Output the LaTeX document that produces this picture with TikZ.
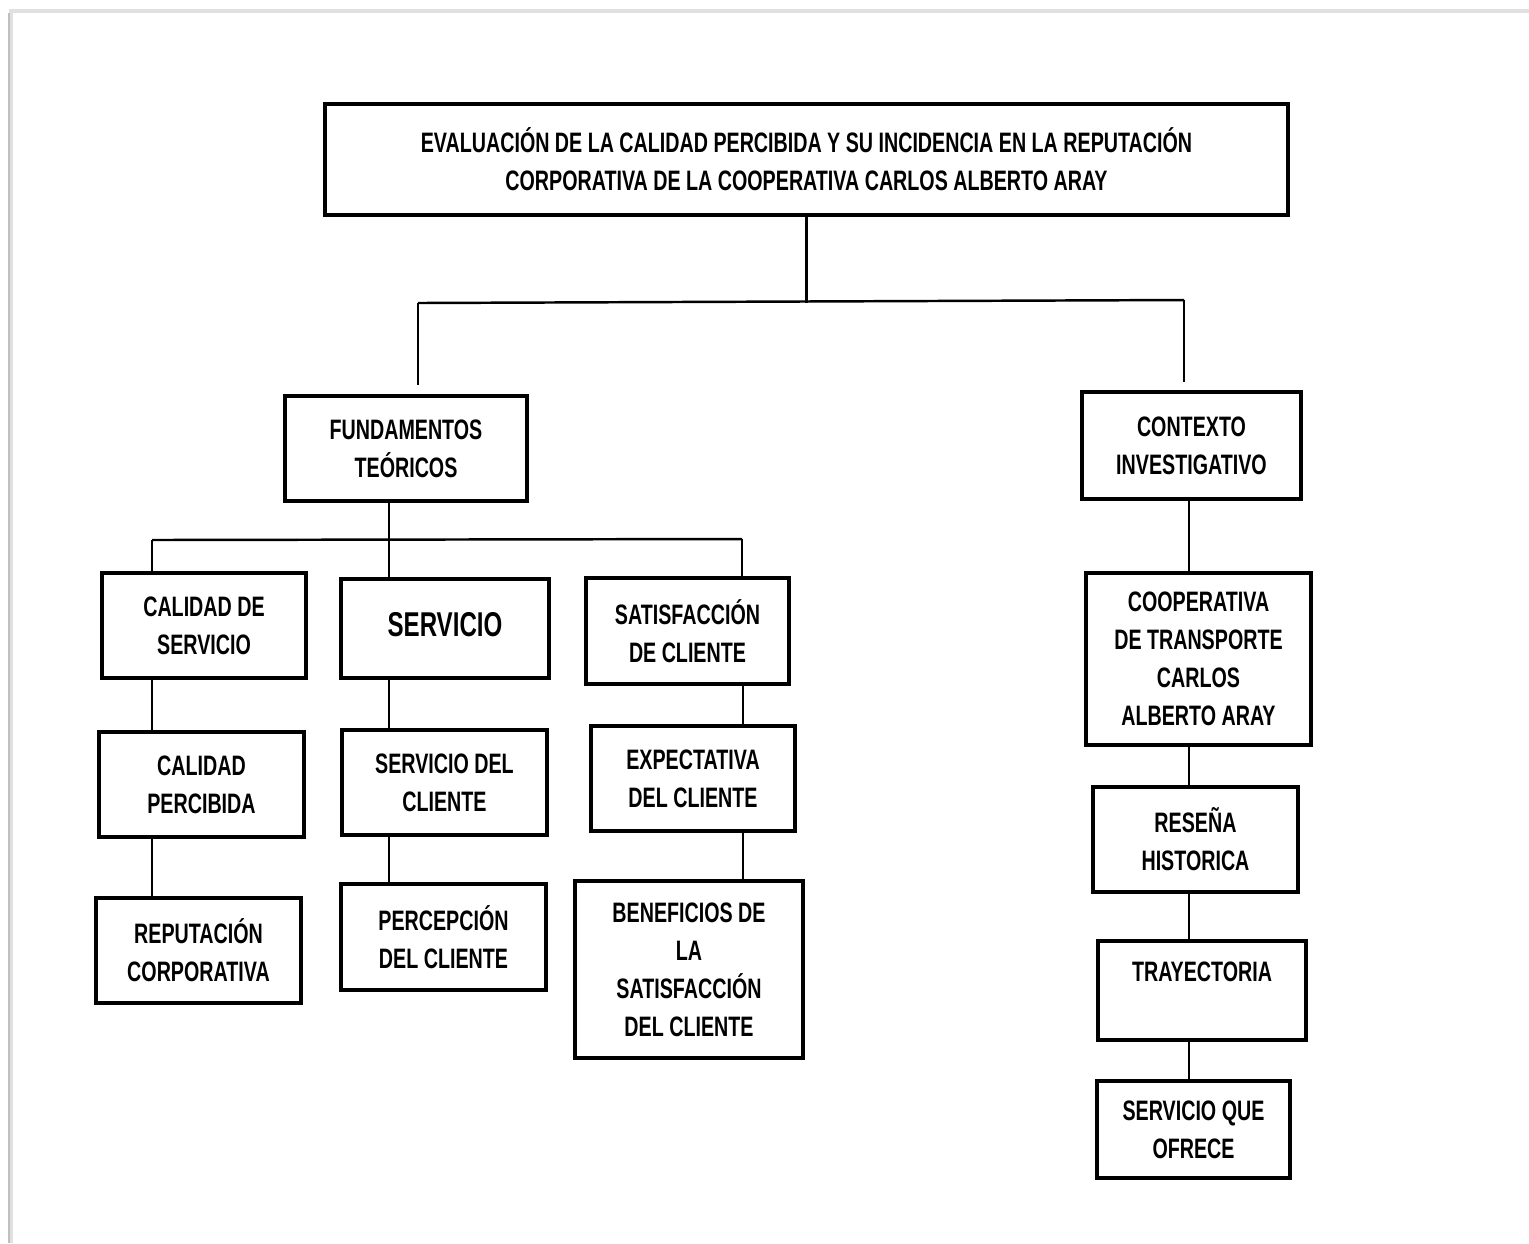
\documentclass[tikz,border=0pt]{standalone}
\usepackage{fontspec}
\setmainfont{Liberation Sans}[FakeStretch=0.70]
\begin{document}
\begin{tikzpicture}[
        box/.style={draw=black, line width=0.9pt, solid, inner sep=0pt, align=center,
            font=\bfseries\fontsize{8}{10.8}\selectfont},
        link/.style={draw=black, line width=0.7pt, solid}
    ]
            \useasboundingbox (0,0) rectangle (15.29,-12.43);
            % page edge
            \draw[draw=black!12, line width=1.2pt] (0.11,-12.43) -- (0.11,-0.11) -- (15.29,-0.11);
            \draw[draw=black!25, line width=0.5pt] (0.09,-12.43) -- (0.09,-0.13);
            % boxes
            \node[box, minimum width=9.63cm, minimum height=1.11cm] (title) at (8.065,-1.595)
                {EVALUACIÓN DE LA CALIDAD PERCIBIDA Y SU INCIDENCIA EN LA REPUTACIÓN\\CORPORATIVA DE LA COOPERATIVA CARLOS ALBERTO ARAY};
            \node[box, minimum width=2.42cm, minimum height=1.05cm] (fund) at (4.06,-4.485) {FUNDAMENTOS\\TEÓRICOS};
            \node[box, minimum width=2.19cm, minimum height=1.07cm] (ctx) at (11.915,-4.455) {CONTEXTO\\INVESTIGATIVO};
            \node[box, minimum width=2.04cm, minimum height=1.05cm] (calserv) at (2.04,-6.255) {CALIDAD DE\\SERVICIO};
            \node[box, minimum width=2.08cm, minimum height=0.99cm,
                font=\bfseries\fontsize{9.8}{11}\selectfont] (serv) at (4.45,-6.285) {\raisebox{0.08cm}{SERVICIO}};
            \node[box, minimum width=2.03cm, minimum height=1.06cm] (satcli) at (6.875,-6.31) {SATISFACCIÓN\\DE CLIENTE};
            \node[box, minimum width=2.05cm, minimum height=1.05cm] (calperc) at (2.015,-7.845) {CALIDAD\\PERCIBIDA};
            \node[box, minimum width=2.05cm, minimum height=1.05cm] (servcli) at (4.445,-7.825) {SERVICIO DEL\\CLIENTE};
            \node[box, minimum width=2.04cm, minimum height=1.05cm] (expcli) at (6.93,-7.785) {EXPECTATIVA\\DEL CLIENTE};
            \node[box, minimum width=2.05cm, minimum height=1.05cm] (reput) at (1.985,-9.505) {REPUTACIÓN\\CORPORATIVA};
            \node[box, minimum width=2.05cm, minimum height=1.06cm] (perccli) at (4.435,-9.37) {PERCEPCIÓN\\DEL CLIENTE};
            \node[box, minimum width=2.28cm, minimum height=1.77cm] (benef) at (6.89,-9.695)
                {BENEFICIOS DE\\LA\\SATISFACCIÓN\\DEL CLIENTE};
            \node[box, minimum width=2.25cm, minimum height=1.72cm] (coop) at (11.985,-6.59)
                {COOPERATIVA\\DE TRANSPORTE\\CARLOS\\ALBERTO ARAY};
            \node[box, minimum width=2.05cm, minimum height=1.05cm] (resena) at (11.955,-8.395) {RESEÑA\\HISTORICA};
            \node[box, minimum width=2.08cm, minimum height=0.99cm] (tray) at (12.02,-9.905) {TRAYECTORIA\\\mbox{}};
            \node[box, minimum width=1.93cm, minimum height=0.97cm] (ofrece) at (11.935,-11.295) {SERVICIO QUE\\OFRECE};
            % bus points and columns
            \coordinate (tbusL) at (4.18,-3.03);
            \coordinate (tbusR) at (11.84,-3.00);
            \coordinate (fbusL) at (1.52,-5.40);
            \coordinate (fbusM) at (3.89,-5.40);
            \coordinate (fbusR) at (7.42,-5.39);
            \coordinate (colA) at (1.52,0);
            \coordinate (colB) at (3.89,0);
            \coordinate (colC) at (7.43,0);
            \coordinate (colD) at (11.89,0);
            % top level
            \draw[link] (title.south) -- (title.south |- tbusL);
            \draw[link] (tbusL) -- (tbusR);
            \draw[link, shorten >=0.09cm] (tbusL) -- (tbusL |- fund.north);
            \draw[link, shorten >=0.08cm] (tbusR) -- (tbusR |- ctx.north);
            % fundamentos
            \draw[link] (fund.south -| fbusM) -- (fbusM |- serv.north);
            \draw[link] (fbusL) -- (fbusR);
            \draw[link] (fbusL) -- (fbusL |- calserv.north);
            \draw[link] (fbusR) -- (fbusR |- satcli.north);
            % columns
            \foreach \up/\down/\col in {calserv/calperc/colA, calperc/reput/colA,
                    serv/servcli/colB, servcli/perccli/colB,
                    satcli/expcli/colC, expcli/benef/colC,
                    ctx/coop/colD, coop/resena/colD, resena/tray/colD, tray/ofrece/colD}
                \draw[link] (\up.south -| \col) -- (\down.north -| \col);
        \end{tikzpicture}
\end{document}
